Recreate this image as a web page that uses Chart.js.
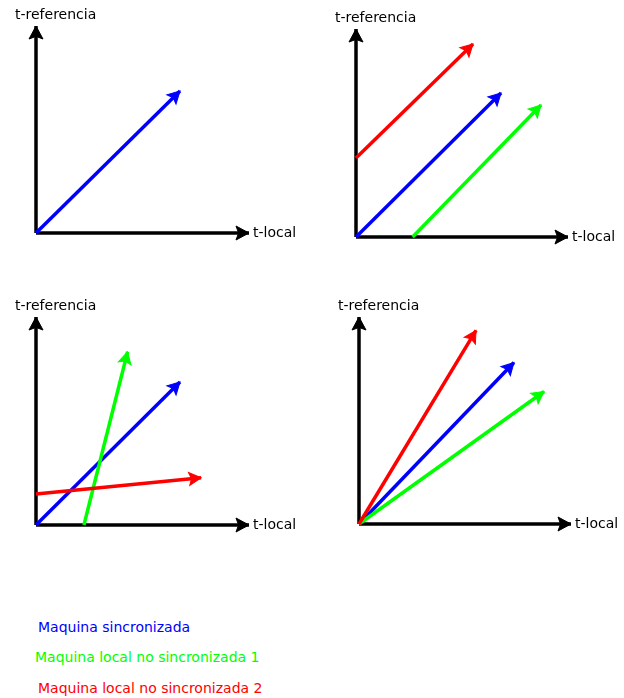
<!DOCTYPE html>
<html><head><meta charset="utf-8">
<script src="https://cdn.jsdelivr.net/npm/chart.js@4/dist/chart.umd.min.js"></script>
<style>
html,body{margin:0;padding:0;background:#fff;}
body{width:624px;height:698px;position:relative;overflow:hidden;font-family:"DejaVu Sans",sans-serif;}
.panel{position:absolute;width:312px;height:290px;}
.legend{position:absolute;font-size:14px;font-family:"DejaVu Sans",sans-serif;white-space:nowrap;line-height:14px;}
</style></head><body>
<script>
// ---- data ----
const xAxisLabel = 't-local';
const yAxisLabel = 't-referencia';
const seriesNames = ['Maquina sincronizada', 'Maquina local no sincronizada 1', 'Maquina local no sincronizada 2'];
const seriesColors = ['#0000ff', '#00ff00', '#ff0000'];
const axisMax = 10;

// each series: [start, end] in axis units (axis length = 10)
const panel1Blue  = [[0, 0], [6.76, 6.86]];

const panel2Blue  = [[0, 0], [6.84, 6.92]];
const panel2Green = [[2.67, 0], [8.73, 6.35]];
const panel2Red   = [[0, 3.80], [5.52, 9.28]];

const panel3Blue  = [[0, 0], [6.76, 6.88]];
const panel3Green = [[2.25, 0], [4.30, 8.33]];
const panel3Red   = [[0, 1.49], [7.75, 2.27]];

const panel4Blue  = [[0, 0], [7.31, 7.80]];
const panel4Green = [[0, 0], [8.73, 6.40]];
const panel4Red   = [[0, 0], [5.52, 9.35]];

// ---- layout ----
const panels = [
  {left: 0,   top: 0,   pad: {left: 36, right: 63, top: 26, bottom: 57}, series: [panel1Blue, null, null]},
  {left: 312, top: 0,   pad: {left: 44, right: 56, top: 29, bottom: 53}, series: [panel2Blue, panel2Green, panel2Red]},
  {left: 0,   top: 290, pad: {left: 36, right: 63, top: 27, bottom: 55}, series: [panel3Blue, panel3Green, panel3Red]},
  {left: 312, top: 290, pad: {left: 47, right: 53, top: 27, bottom: 56}, series: [panel4Blue, panel4Green, panel4Red]}
];

const toPts = arr => arr.map(p => ({x: p[0], y: p[1]}));

const arrowPlugin = {
  id: 'arrows',
  afterDatasetsDraw(chart) {
    const ctx = chart.ctx;
    ctx.save();
    chart.data.datasets.forEach((ds, i) => {
      const pts = chart.getDatasetMeta(i).data;
      if (pts.length < 2) return;
      const a = pts[pts.length - 2], b = pts[pts.length - 1];
      const ang = Math.atan2(b.y - a.y, b.x - a.x);
      const L = ds.headLen, W = ds.headWid;
      ctx.save();
      ctx.translate(b.x, b.y);
      ctx.rotate(ang);
      ctx.beginPath();
      ctx.moveTo(0, 0);
      ctx.lineTo(-L, -W / 2);
      ctx.lineTo(-L * 0.8, 0);
      ctx.lineTo(-L, W / 2);
      ctx.closePath();
      ctx.fillStyle = ds.borderColor;
      ctx.strokeStyle = ds.borderColor;
      ctx.lineWidth = 1;
      ctx.lineJoin = 'miter';
      ctx.fill();
      ctx.stroke();
      ctx.restore();
    });
    // axis labels
    const xs = chart.scales.x, ys = chart.scales.y;
    const ox = xs.getPixelForValue(0), oy = ys.getPixelForValue(0);
    const xt = xs.getPixelForValue(axisMax), yt = ys.getPixelForValue(axisMax);
    ctx.fillStyle = '#000';
    ctx.font = '14px "DejaVu Sans"';
    ctx.textBaseline = 'alphabetic';
    ctx.textAlign = 'left';
    ctx.fillText(yAxisLabel, ox - 21, yt - 7);
    ctx.fillText(xAxisLabel, xt + 4, oy + 3.5);
    ctx.restore();
  }
};

panels.forEach(p => {
  const div = document.createElement('div');
  div.className = 'panel';
  div.style.left = p.left + 'px';
  div.style.top = p.top + 'px';
  const cv = document.createElement('canvas');
  cv.width = 312; cv.height = 290;
  div.appendChild(cv);
  document.body.appendChild(div);

  const datasets = [
    {data: toPts([[0, 0], [axisMax, 0]]), borderColor: '#000', borderWidth: 3.5, headLen: 13, headWid: 14, order: 10},
    {data: toPts([[0, 0], [0, axisMax]]), borderColor: '#000', borderWidth: 3.5, headLen: 13, headWid: 14, order: 10}
  ];
  p.series.forEach((s, i) => {
    if (!s) return;
    datasets.push({label: seriesNames[i], data: toPts(s), borderColor: seriesColors[i], borderWidth: 3.5,
                   headLen: 12, headWid: 13, order: 3 - i});
  });
  datasets.forEach(d => { d.showLine = true; d.pointRadius = 0; d.clip = false; d.fill = false; d.borderCapStyle = 'butt'; });

  new Chart(cv, {
    type: 'scatter',
    data: {datasets},
    options: {
      responsive: false,
      devicePixelRatio: 1,
      animation: false,
      layout: {padding: p.pad},
      plugins: {legend: {display: false}, tooltip: {enabled: false}},
      events: [],
      scales: {
        x: {type: 'linear', min: 0, max: axisMax, display: false},
        y: {type: 'linear', min: 0, max: axisMax, display: false}
      }
    },
    plugins: [arrowPlugin]
  });
});

// legend (HTML text)
const legendPos = [[38, 620], [35, 650], [38, 681]];
seriesNames.forEach((n, i) => {
  const d = document.createElement('div');
  d.className = 'legend';
  d.textContent = n;
  d.style.color = seriesColors[i];
  d.style.left = legendPos[i][0] + 'px';
  d.style.top = legendPos[i][1] + 'px';
  document.body.appendChild(d);
});
</script>
</body></html>
